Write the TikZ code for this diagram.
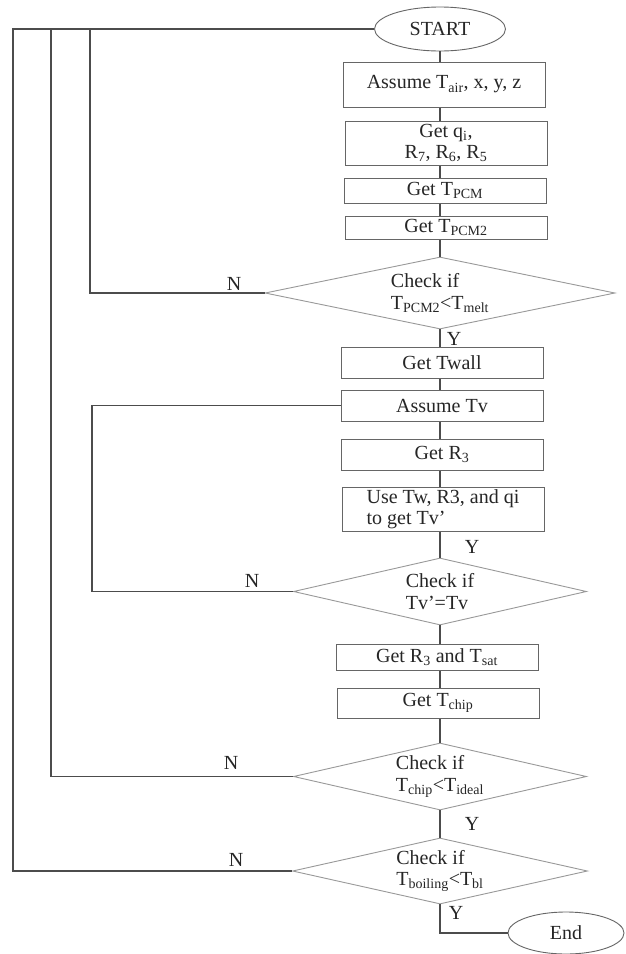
\documentclass[tikz,border=0pt]{standalone}
\usepackage{fontspec}
\setmainfont{Liberation Serif}
\usetikzlibrary{shapes.geometric}
\begin{document}
\begin{tikzpicture}[x=1pt,y=-1pt,
  every node/.style={font=\fontsize{20}{21.5}\selectfont, text=black!85},
  proc/.style={draw=black!60, line width=1pt, rectangle, minimum width=202pt, inner sep=0pt},
  chk/.style={draw=black!40, line width=0.9pt, diamond, aspect=4.8, inner sep=0pt, align=left},
  term/.style={draw=black!60, line width=0.9pt, ellipse, inner sep=0pt},
  lnk/.style={draw=black!70, line width=1.1pt},
  lbl/.style={inner sep=0pt}]
\fill[white] (0,0) rectangle (625,954);
\useasboundingbox (0,0) rectangle (625,954);
% terminals
\node[term, minimum width=131pt, minimum height=44pt] (start) at (440,29){START};
\node[term, minimum width=116pt, minimum height=42pt] (end) at (566,933){End};
% process boxes
\node[proc, minimum height=45pt] (assume) at (444,84.5){Assume T\textsubscript{air}, x, y, z};
\node[proc, minimum height=44pt, align=center] (getq) at (446,143){Get q\textsubscript{i},\\R\textsubscript{7}, R\textsubscript{6}, R\textsubscript{5}};
\node[proc, minimum height=25pt] (tpcm) at (445,190.5){Get T\textsubscript{PCM}};
\node[proc, minimum height=23pt] (tpcm2) at (446,227.5){Get T\textsubscript{PCM2}};
\node[proc, minimum height=31pt] (twall) at (442,362.5){Get Twall};
\node[proc, minimum height=31pt] (assumetv) at (442,405.5){Assume Tv};
\node[proc, minimum height=31pt] (getr) at (442,454.5){Get R\textsubscript{3}};
\node[proc, minimum height=44pt, align=left] (usetw) at (443,509){Use Tw, R3, and qi\\to get Tv’};
\node[proc, minimum height=26pt] (rtsat) at (437,657){Get R\textsubscript{3} and T\textsubscript{sat}};
\node[proc, minimum height=30pt] (tchip) at (438,703){Get T\textsubscript{chip}};
% decisions
\node[chk, minimum width=350pt, minimum height=72pt] (chk1) at (440,293){Check if\\T\textsubscript{PCM2}<T\textsubscript{melt}};
\node[chk, minimum width=293pt, minimum height=67pt] (chk2) at (440,591.5){Check if\\Tv’=Tv};
\node[chk, minimum width=293pt, minimum height=67pt] (chk3) at (440,776.5){Check if\\T\textsubscript{chip}<T\textsubscript{ideal}};
\node[chk, minimum width=295pt, minimum height=66pt] (chk4) at (440,871){Check if\\T\textsubscript{boiling}<T\textsubscript{bl}};
% main line
\draw[lnk](start.south) -- (start.south |- assume.north);
\draw[lnk](assume.south -| start) -- (getq.north -| start);
\draw[lnk](getq.south -| start) -- (tpcm.north -| start);
\draw[lnk](tpcm.south -| start) -- (tpcm2.north -| start);
\draw[lnk](tpcm2.south -| start) -- (chk1.north);
\draw[lnk](chk1.south) -- (twall.north -| chk1);
\draw[lnk](twall.south -| chk1) -- (assumetv.north -| chk1);
\draw[lnk](assumetv.south -| chk1) -- (getr.north -| chk1);
\draw[lnk](getr.south -| chk1) -- (usetw.north -| chk1);
\draw[lnk](usetw.south -| chk1) -- (chk2.north);
\draw[lnk](chk2.south) -- (rtsat.north -| chk2);
\draw[lnk](rtsat.south -| chk2) -- (tchip.north -| chk2);
\draw[lnk](tchip.south -| chk2) -- (chk3.north);
\draw[lnk](chk3.south) -- (chk4.north);
\draw[lnk](chk4.south) |- (end.west);
% loops back
\coordinate (backA) at (90,0);
\coordinate (backB) at (92,0);
\coordinate (backC) at (51,0);
\coordinate (backD) at (13,0);
\draw[lnk](chk1.west) -| (backA |- start.west) -- (start.west);
\draw[lnk](chk2.west) -| (backB |- assumetv.west) -- (assumetv.west);
\draw[lnk](chk3.west) -| (backC |- start.west) -- (start.west);
\draw[lnk](chk4.west) -| (backD |- start.west) -- (start.west);
% labels
\node[lbl] (n1) at (234,284){N};
\node[lbl] (n2) at (252,581){N};
\node[lbl] (n3) at (231,763){N};
\node[lbl] (n4) at (236,860){N};
\node[lbl] (y1) at (454,339){Y};
\node[lbl] (y2) at (472,547){Y};
\node[lbl] (y3) at (472,824){Y};
\node[lbl] (y4) at (456,913){Y};
\end{tikzpicture}
\end{document}
